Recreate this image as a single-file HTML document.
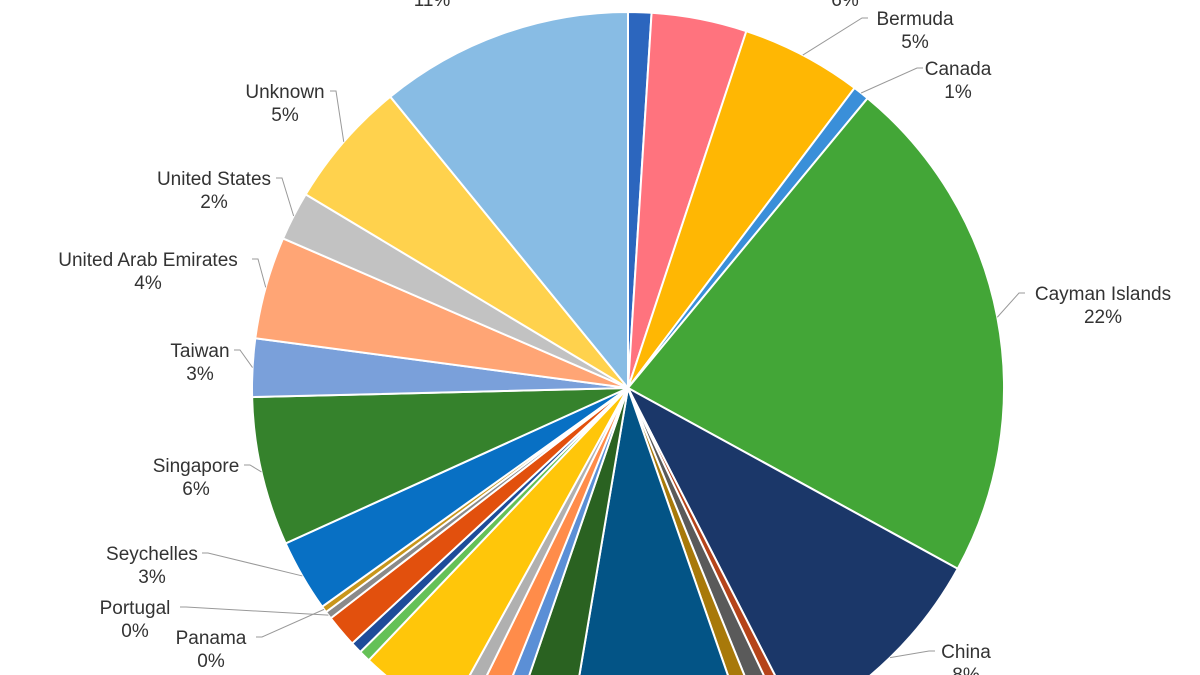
<!DOCTYPE html>
<html><head><meta charset="utf-8"><style>
html,body{margin:0;padding:0;background:#fff;width:1200px;height:675px;overflow:hidden;}
svg{display:block;}
text{font-family:"Liberation Sans",Arial,sans-serif;font-size:19px;fill:#333;}
</style></head><body>
<svg id="chart" width="1200" height="675" viewBox="0 0 1200 675"></svg>
<script>
const categories = ["Slice 1","Slice 2","Bermuda","Canada","Cayman Islands","China","Slice 7","Slice 8","Slice 9","Slice 10","Slice 11","Slice 12","Slice 13","Slice 14","Slice 15","Slice 16","Slice 17","Slice 18","Portugal","Panama","Seychelles","Singapore","Taiwan","United Arab Emirates","United States","Unknown","Slice 27"];
const values = [1.0,4.1,5.2,0.7,22.0,9.5,0.5,0.9,0.8,8.0,2.6,0.8,1.2,0.75,4.1,0.5,0.5,1.4,0.33,0.28,3.1,6.4,2.5,4.4,2.1,5.5,10.9];
const pctLabels = ["1%","6%","5%","1%","22%","8%","","","","","","","","","","","","","0%","0%","3%","6%","3%","4%","2%","5%","11%"];
const colors = ["#2c66be","#ff737e","#ffb703","#3a8fd9","#43a637","#1b3769","#b5441a","#5a5a5a","#a8790a","#035486","#2a6221","#5b8fd6","#ff8c4a","#b0b0b0","#ffc60a","#65c157","#1e4c9a","#e2500d","#8a8a8a","#c8961b","#0870c4","#35822c","#7aa0da","#ffa575","#c2c2c2","#ffd24d","#88bce4"];
// label layout: index, text center x, name baseline y, elbow x, elbow y
const labelLayout = [
 [2,915,25,868,18],[3,958,75,923,68],[4,1103,300,1025,293],[5,966,658,935,651],
 [25,285,98,336,91],[24,214,185,282,178],[23,148,266,258,259],[22,200,357,240,350],
 [21,196,472,250,465],[20,152,560,208,553],[18,135,614,186,607],[19,211,644,262,637]
];
const svg=document.getElementById('chart');
const NS='http://www.w3.org/2000/svg';
const cx=628, cy=388, R=376;
const total=values.reduce((a,b)=>a+b,0);
function pt(a,r){const t=a*Math.PI/180;return [cx+r*Math.sin(t), cy-r*Math.cos(t)];}
let acc=0; const mids=[];
values.forEach((v,i)=>{
  const a0=acc/total*360, a1=(acc+v)/total*360; acc+=v; mids.push((a0+a1)/2);
  const p0=pt(a0,R), p1=pt(a1,R);
  const path=document.createElementNS(NS,'path');
  path.setAttribute('d',`M${cx},${cy} L${p0[0]},${p0[1]} A${R},${R} 0 ${a1-a0>180?1:0} 1 ${p1[0]},${p1[1]} Z`);
  path.setAttribute('fill',colors[i]);path.setAttribute('stroke','#fff');path.setAttribute('stroke-width','2');
  
  
  svg.appendChild(path);
});
labelLayout.forEach(l=>{
  const i=l[0]; const p=pt(mids[i],R);
  const right=l[1]>cx;
  const line=document.createElementNS(NS,'polyline');
  const ex=l[3], ey=l[4];
  line.setAttribute('points',`${right?ex:ex-6},${ey} ${right?ex-6:ex},${ey} ${p[0]},${p[1]}`);
  line.setAttribute('fill','none');line.setAttribute('stroke','#999');line.setAttribute('stroke-width','1');
  
  
  svg.appendChild(line);
  const t=document.createElementNS(NS,'text');
  t.setAttribute('x',l[1]);t.setAttribute('y',l[2]);t.setAttribute('text-anchor','middle');
  t.textContent=categories[i];
  
  
  svg.appendChild(t);
  const t2=document.createElementNS(NS,'text');
  t2.setAttribute('x',l[1]);t2.setAttribute('y',l[2]+23);t2.setAttribute('text-anchor','middle');
  t2.textContent=pctLabels[i];
  
  
  svg.appendChild(t2);
});
[[432,6,"11%"],[845,6,"6%"]].forEach(d=>{
  const t=document.createElementNS(NS,'text');
  t.setAttribute('x',d[0]);t.setAttribute('y',d[1]);t.setAttribute('text-anchor','middle');t.textContent=d[2];
  
  
  svg.appendChild(t);
});
</script>
</body></html>
